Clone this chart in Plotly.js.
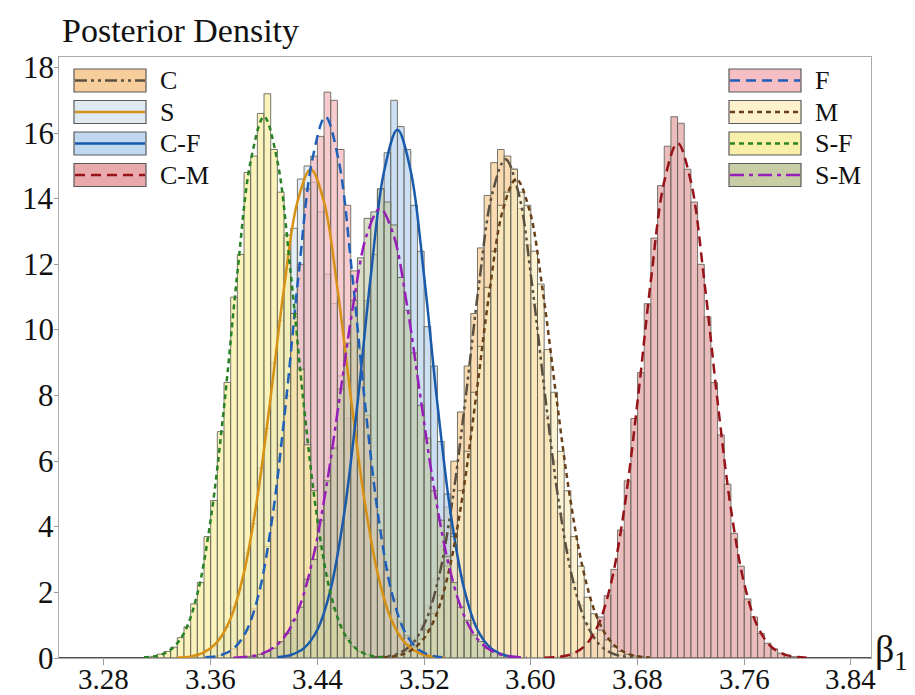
<!DOCTYPE html>
<html>
<head>
<meta charset="utf-8">
<script src="https://cdn.plot.ly/plotly-3.0.1.min.js"></script>
<style>html,body{margin:0;padding:0;background:#fff;}#chart{width:915px;height:695px;}</style>
</head>
<body>
<div id="chart"></div>
<script>
// ---- data ----
const seriesNames = ['C', 'S', 'C-F', 'C-M', 'F', 'M', 'S-F', 'S-M'];
const binWidth = 0.005;
const curveStep = 0.01;
const xTicks = [3.28, 3.36, 3.44, 3.52, 3.60, 3.68, 3.76, 3.84];
const yTicks = [0, 2, 4, 6, 8, 10, 12, 14, 16, 18];

// first bin centre of each histogram (same order as seriesNames)
const histStart = [3.4875, 3.3425, 3.4125, 3.6225, 3.3625, 3.4925, 3.3125, 3.3875];
const histC  = [0.04,0.07,0.13,0.22,0.38,0.62,1.0,1.6,2.4,3.4,4.6,6.0,7.5,8.9,10.5,12.5,14.1,15.1,
                15.5,
                15.3,14.9,13.7,12.6,10.8,9.3,7.4,6.0,4.4,3.3,2.3,1.6,1.05,0.65,0.4,0.25,0.14,0.08,0.04,0.02];
const histS  = [0.04,0.07,0.13,0.25,0.36,0.65,0.95,1.55,2.1,3.2,4.1,5.8,7.0,9.0,10.3,12.3,13.1,14.6,15.0,
                14.5,13.6,11.7,10.8,8.6,7.3,5.4,4.4,3.0,2.3,1.45,1.0,0.6,0.4,0.22,0.14,0.07,0.04,0.02];
const histCF = [0.03,0.06,0.12,0.23,0.38,0.65,1.15,1.7,2.5,3.6,5.3,6.9,8.5,10.9,12.3,14.3,15.4,17.0,
                16.2,15.5,13.8,12.4,10.1,8.9,6.6,5.0,3.8,2.5,1.75,1.05,0.7,0.38,0.22,0.12,0.06,0.03];
const histCM = [0.04,0.08,0.15,0.27,0.48,0.75,1.25,1.9,2.7,3.9,5.4,7.3,
                8.7,10.8,12.8,14.4,15.6,16.5,16.3,14.9,13.9,12.0,10.4,8.4,
                6.8,5.3,3.8,2.8,1.8,1.25,0.75,0.45,0.28,0.15,0.08,0.04];
const histF  = [0.04,0.08,0.17,0.28,0.55,0.85,1.5,2.1,3.4,4.5,6.5,8.0,10.5,12.0,14.3,15.3,15.9,
                17.25,17.0,15.5,13.8,11.8,9.4,7.4,5.5,3.9,2.7,1.8,1.1,0.68,0.4,0.22,0.12,0.06];
const histM  = [0.035,0.06,0.12,0.2,0.33,0.58,0.85,1.35,1.9,2.8,3.7,5.1,6.3,8.1,9.5,11.3,12.4,13.8,14.2,
                14.9,
                14.2,13.8,12.4,11.4,9.4,8.1,6.3,5.1,3.7,2.8,1.85,1.35,0.85,0.55,0.34,0.2,0.11,0.06,0.035];
const histSF = [0.02,0.05,0.12,0.2,0.33,0.62,0.95,1.65,2.3,3.7,4.8,6.9,8.4,11.0,12.3,14.8,15.3,16.6,
                17.2,15.5,14.2,12.9,10.5,8.8,6.5,5.1,3.4,2.5,1.5,1.0,0.6,0.35,0.2,0.1,0.05,0.02];
const histSM = [0.04,0.06,0.11,0.2,0.3,0.5,0.75,1.15,1.55,2.4,3.0,4.2,5.4,6.4,8.2,9.6,10.9,12.2,13.4,13.6,
                14.3,
                13.9,13.2,11.6,10.6,9.3,7.7,6.7,5.1,4.2,3.1,2.3,1.55,1.15,0.7,0.5,0.3,0.2,0.1,0.07,0.04];

// first x of each density curve
const curveStart = [3.481, 3.335, 3.41, 3.61, 3.356, 3.489, 3.31, 3.377];
const curveC  = [0.01,0.04,0.14,0.43,1.11,2.46,4.74,7.89,11.35,14.14,15.2,14.14,11.35,7.89,4.74,2.46,1.11,0.43,0.14,0.04,0.01];
const curveS  = [0.014,0.05,0.17,0.49,1.21,2.61,4.89,7.97,11.28,13.9,14.9,13.9,11.28,7.97,4.89,2.61,1.21,0.49,0.17,0.05,0.014];
const curveCF = [0.02,0.09,0.30,0.86,2.11,4.38,7.74,11.64,14.84,16.1,14.84,11.64,7.74,4.38,2.11,0.86,0.30,0.09,0.02];
const curveCM = [0.006,0.03,0.11,0.35,0.96,2.26,4.54,7.82,11.51,14.52,15.7,14.52,11.51,7.82,4.54,2.26,0.96,0.35,0.11,0.03,0.006];
const curveF  = [0.02,0.07,0.25,0.76,1.95,4.22,7.64,11.73,15.15,16.5,15.15,11.73,7.64,4.22,1.95,0.76,0.25,0.07,0.02];
const curveM  = [0.02,0.06,0.20,0.55,1.30,2.73,4.99,7.99,11.17,13.65,14.6,13.65,11.17,7.99,4.99,2.73,1.30,0.55,0.20,0.06,0.02];
const curveSF = [0.02,0.07,0.25,0.76,1.95,4.22,7.64,11.73,15.15,16.5,15.15,11.73,7.64,4.22,1.95,0.76,0.25,0.07,0.02];
const curveSM = [0.01,0.036,0.11,0.31,0.74,1.61,3.10,5.29,8.03,10.8,12.9,13.7,12.9,10.8,8.03,5.29,3.10,1.61,0.74,0.31,0.11,0.036,0.01];

// ---- styles ----
const fillColors = ['rgba(246,200,140,0.68)','rgba(212,228,242,0.68)','rgba(180,208,238,0.68)','rgba(226,160,160,0.7)',
                    'rgba(241,180,186,0.68)','rgba(250,236,192,0.68)','rgba(248,238,160,0.7)','rgba(192,202,160,0.6)'];
const swatchColors = ['rgb(247,205,155)','rgb(222,234,244)','rgb(192,216,240)','rgb(232,170,170)',
                      'rgb(245,190,195)','rgb(252,240,205)','rgb(248,240,170)','rgb(200,205,165)'];
const lineColors = ['rgb(90,80,65)','rgb(215,145,20)','rgb(25,90,170)','rgb(150,20,25)',
                    'rgb(30,95,185)','rgb(105,65,25)','rgb(40,130,35)','rgb(150,30,185)'];
const lineDash = ['12px,4px,3px,4px,3px,4px','solid','solid','10px,6px',
                  '10px,6px','5px,4px','5px,4px','14px,5px,4px,5px'];

const hists = [histC, histS, histCF, histCM, histF, histM, histSF, histSM];
const curves = [curveC, curveS, curveCF, curveCM, curveF, curveM, curveSF, curveSM];

const traces = [];
hists.forEach((h, i) => {
  traces.push({
    type: 'bar', name: seriesNames[i],
    x: h.map((_, k) => +(histStart[i] + k * binWidth).toFixed(4)),
    y: h, width: binWidth,
    marker: {color: fillColors[i], line: {color: 'rgba(95,95,85,0.85)', width: 1}},
    showlegend: false, hoverinfo: 'x+y+name'
  });
});
curves.forEach((c, i) => {
  traces.push({
    type: 'scatter', mode: 'lines', name: seriesNames[i],
    x: c.map((_, k) => +(curveStart[i] + k * curveStep).toFixed(4)),
    y: c,
    line: {color: lineColors[i], width: 2.5, dash: lineDash[i], shape: 'spline', smoothing: 1},
    showlegend: false
  });
});

// ---- layout ----
const W = 915, H = 695;
const M = {l: 59, r: 44, t: 57, b: 37};
const pw = W - M.l - M.r, ph = H - M.t - M.b;
const px = x => (x - M.l) / pw;
const py = y => (H - M.b - y) / ph;

const shapes = [], annotations = [];
const font = 'Liberation Serif, Times New Roman, serif';
seriesNames.forEach((n, i) => {
  const col = Math.floor(i / 4), row = i % 4;
  const x0 = col === 0 ? 74 : 729, x1 = x0 + 72;
  const y0 = 69 + row * 31.5, y1 = y0 + 23;
  shapes.push({type: 'rect', xref: 'paper', yref: 'paper', x0: px(x0), x1: px(x1), y0: py(y1), y1: py(y0),
               fillcolor: swatchColors[i], line: {color: 'rgb(90,90,90)', width: 1.2}});
  shapes.push({type: 'line', xref: 'paper', yref: 'paper', x0: px(x0 + 1), x1: px(x1 - 1), y0: py((y0 + y1) / 2), y1: py((y0 + y1) / 2),
               line: {color: lineColors[i], width: 2.5, dash: lineDash[i]}});
  annotations.push({xref: 'paper', yref: 'paper', x: px(x1 + 12), y: py((y0 + y1) / 2), xanchor: 'left', yanchor: 'middle',
                    text: n, showarrow: false, font: {family: font, size: 26, color: '#111'}});
});
// tick labels placed on the axis scales
xTicks.forEach(v => {
  annotations.push({xref: 'x', yref: 'paper', x: v, y: 0, xanchor: 'center', yanchor: 'top', yshift: -3,
                    text: v.toFixed(2), showarrow: false, font: {family: font, size: 29, color: '#111'}});
});
yTicks.forEach(v => {
  annotations.push({xref: 'paper', yref: 'y', x: 0, y: v, xanchor: 'right', yanchor: 'middle', xshift: -3,
                    text: String(v), showarrow: false, font: {family: font, size: 31, color: '#111'}});
});
annotations.push({xref: 'paper', yref: 'paper', x: px(60), y: 1, xanchor: 'left', yanchor: 'bottom', yshift: 6,
                  text: 'Posterior Density', showarrow: false, font: {family: font, size: 34, color: '#111'}});
annotations.push({xref: 'paper', yref: 'paper', x: 1, y: 0, xanchor: 'left', yanchor: 'middle', xshift: 2, yshift: 6,
                  text: 'β<sub>1</sub>', showarrow: false, font: {family: font, size: 38, color: '#111'}});

const layout = {
  width: W, height: H, margin: M,
  paper_bgcolor: '#fff', plot_bgcolor: '#fff',
  barmode: 'overlay', bargap: 0,
  showlegend: false,
  font: {family: font, color: '#111'},
  xaxis: {range: [3.2463, 3.855], tickvals: xTicks, showticklabels: false,
          ticks: 'outside', ticklen: 6, tickcolor: '#999', showgrid: false, zeroline: false,
          showline: true, linecolor: '#aaa', linewidth: 1.2, mirror: true},
  yaxis: {range: [0, 18.32], tickvals: yTicks, showticklabels: false, ticks: 'outside', ticklen: 4, tickcolor: '#999',
          showgrid: false, zeroline: true, zerolinecolor: 'rgb(80,80,80)', zerolinewidth: 1.5,
          showline: true, linecolor: '#aaa', linewidth: 1.2, mirror: true},
  shapes: shapes, annotations: annotations
};

Plotly.newPlot('chart', traces, layout, {displayModeBar: false, staticPlot: true});
</script>
</body>
</html>
